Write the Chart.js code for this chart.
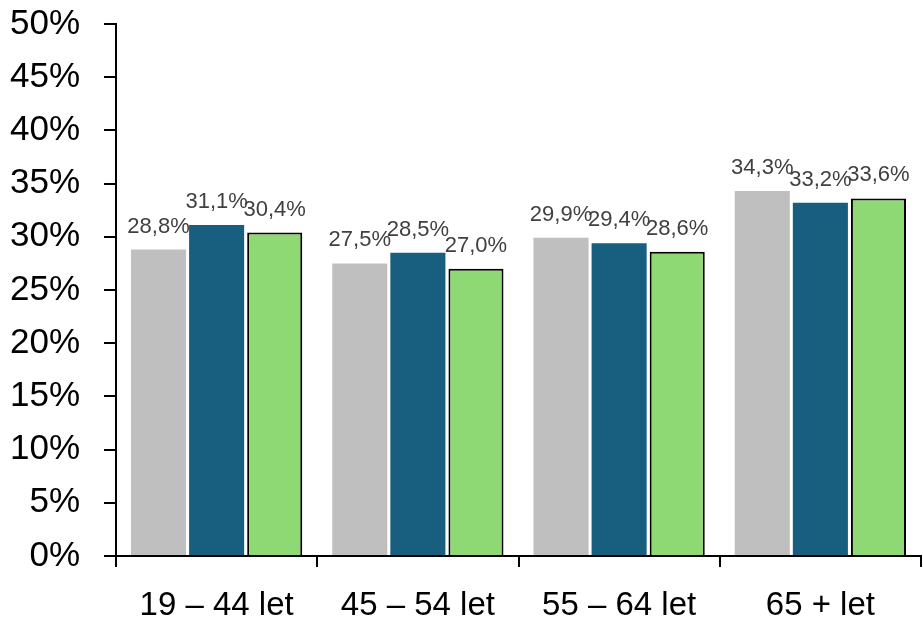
<!DOCTYPE html>
<html>
<head>
<meta charset="utf-8">
<script src="https://cdn.jsdelivr.net/npm/chart.js@4/dist/chart.umd.min.js"></script>
<style>
  html, body { margin: 0; padding: 0; background: #ffffff; }
  #wrap { width: 923px; height: 620px; position: relative; }
</style>
</head>
<body>
<div id="wrap"><canvas id="c"></canvas></div>
<script>
// Age groups on the x axis
const categories = ['19 – 44 let', '45 – 54 let', '55 – 64 let', '65 + let'];

// Shares (%) per age group, one array per series
const seriesA = [28.8, 27.5, 29.9, 34.3];
const seriesB = [31.1, 28.5, 29.4, 33.2];
const seriesC = [30.4, 27.0, 28.6, 33.6];

// Y axis tick labels
const yTickLabels = ['0%', '5%', '10%', '15%', '20%', '25%', '30%', '35%', '40%', '45%', '50%'];

const fmt = v => v.toFixed(1).replace('.', ',') + '%';

// Writes each bar's value above it
const valueLabels = {
  id: 'valueLabels',
  afterDatasetsDraw(chart) {
    const ctx = chart.ctx;
    ctx.save();
    ctx.font = '22px "Liberation Sans", Arial, sans-serif';
    ctx.fillStyle = '#404040';
    ctx.textAlign = 'center';
    ctx.textBaseline = 'alphabetic';
    chart.data.datasets.forEach((ds, i) => {
      chart.getDatasetMeta(i).data.forEach((bar, j) => {
        ctx.fillText(fmt(ds.data[j]), bar.x, bar.y - 17);
      });
    });
    ctx.restore();
  }
};

new Chart(document.getElementById('c'), {
  type: 'bar',
  data: {
    labels: categories,
    datasets: [
      { data: seriesA, backgroundColor: '#BFBFBF', borderWidth: 0 },
      { data: seriesB, backgroundColor: '#175E7F', borderWidth: 0 },
      { data: seriesC, backgroundColor: '#8FD974', borderColor: '#000000', borderWidth: 2 }
    ]
  },
  options: {
    responsive: true,
    maintainAspectRatio: false,
    animation: false,
    datasets: { bar: { categoryPercentage: 0.866, barPercentage: 0.948 } },
    layout: { padding: { top: 24, right: 2, left: 0, bottom: 0 } },
    plugins: { legend: { display: false }, tooltip: { enabled: false } },
    scales: {
      x: {
        grid: { offset: true, drawOnChartArea: false, drawTicks: true, tickLength: 11, color: '#000000', lineWidth: 2 },
        border: { display: true, color: '#000000', width: 2 },
        ticks: {
          color: '#000000',
          padding: 19,
          font: { family: '"Liberation Sans", Arial, sans-serif', size: 33 }
        },
        afterFit(scale) { scale.height = 64; scale.paddingLeft = 0; scale.paddingRight = 0; }
      },
      y: {
        min: 0,
        max: 50,
        grid: { drawOnChartArea: false, drawTicks: true, tickLength: 12, color: '#000000', lineWidth: 2 },
        border: { display: true, color: '#000000', width: 2 },
        ticks: {
          stepSize: 5,
          color: '#000000',
          padding: 24,
          font: { family: '"Liberation Sans", Arial, sans-serif', size: 35 },
          callback: (v) => yTickLabels[Math.round(v / 5)]
        },
        afterFit(scale) { scale.width = 116; scale.paddingTop = 0; scale.paddingBottom = 0; }
      }
    }
  },
  plugins: [valueLabels]
});
</script>
</body>
</html>
